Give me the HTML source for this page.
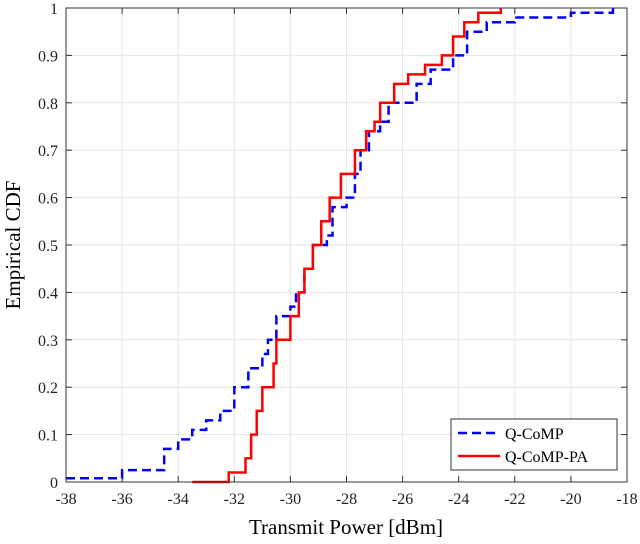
<!DOCTYPE html>
<html><head><meta charset="utf-8"><style>
html,body{margin:0;padding:0;background:#fff;}
svg{display:block;font-family:"Liberation Serif",serif;}
</style></head><body>
<svg id="chart" width="640" height="544">
<g id="grid"></g>
<g id="series"></g>
<g id="axes"></g>
<text x="346" y="534" font-size="21" text-anchor="middle">Transmit Power [dBm]</text>
<text transform="translate(20,245) rotate(-90)" font-size="21" text-anchor="middle">Empirical CDF</text>
<g>
<rect x="451" y="419" width="166" height="51" fill="#fff" stroke="#333" stroke-width="1"/>
<g>
<line x1="458" y1="433" x2="500" y2="433" stroke="#0000ff" stroke-width="2.5" stroke-dasharray="9,5"/>
<text x="505" y="439" font-size="16">Q-CoMP</text></g>
<g>
<line x1="458" y1="456" x2="500" y2="456" stroke="#ff0000" stroke-width="2.5"/>
<text x="505" y="462" font-size="16">Q-CoMP-PA</text></g>
</g>
</svg>
<script>
const xTicks=[-38,-36,-34,-32,-30,-28,-26,-24,-22,-20,-18];
const yTicks=[0,0.1,0.2,0.3,0.4,0.5,0.6,0.7,0.8,0.9,1];
const blueX=[-38,-36,-34.5,-34,-33.5,-33,-32.5,-32,-31.5,-31,-30.8,-30.5,-30,-29.8,-29.5,-29.2,-28.7,-28.5,-28,-27.7,-27.5,-27.2,-26.8,-26.5,-25.5,-25,-24.2,-23.7,-23,-22,-20,-18.5];
const blueY=[0.008,0.025,0.07,0.09,0.11,0.13,0.15,0.2,0.24,0.27,0.3,0.35,0.37,0.4,0.45,0.5,0.52,0.58,0.6,0.65,0.7,0.74,0.76,0.8,0.84,0.87,0.9,0.95,0.97,0.98,0.99,1];
const redX=[-33.5,-32.2,-31.6,-31.4,-31.2,-31,-30.6,-30.5,-30,-29.7,-29.5,-29.2,-28.9,-28.6,-28.2,-27.7,-27.3,-27,-26.8,-26.3,-25.8,-25.2,-24.6,-24.2,-23.8,-23.3,-22.5];
const redY=[0,0.02,0.05,0.1,0.15,0.2,0.25,0.3,0.35,0.4,0.45,0.5,0.55,0.6,0.65,0.7,0.74,0.76,0.8,0.84,0.86,0.88,0.9,0.94,0.97,0.99,1];
const L=66,R=627,T=8,B=482;
const xs=v=>L+(v+38)/20*(R-L);
const ys=v=>B-v*(B-T);
const NS="http://www.w3.org/2000/svg";
function mk(t,a,p){const e=document.createElementNS(NS,t);for(const k in a)e.setAttribute(k,a[k]);p.appendChild(e);return e;}
const grid=document.getElementById('grid'),axes=document.getElementById('axes'),ser=document.getElementById('series');
xTicks.forEach(v=>{
  const g=mk('line',{x1:xs(v),x2:xs(v),y1:T,y2:B,stroke:'#e6e6e6','stroke-width':1},grid);
  
  
  mk('line',{x1:xs(v),x2:xs(v),y1:B,y2:B-6,stroke:'#333'},axes);
  mk('line',{x1:xs(v),x2:xs(v),y1:T,y2:T+6,stroke:'#333'},axes);
  const t=mk('text',{x:xs(v),y:B+22,'font-size':16,'text-anchor':'middle',fill:'#222'},axes);
  t.textContent=v;
  
  
});
yTicks.forEach(v=>{
  const g=mk('line',{x1:L,x2:R,y1:ys(v),y2:ys(v),stroke:'#e6e6e6','stroke-width':1},grid);
  
  
  mk('line',{x1:L,x2:L+6,y1:ys(v),y2:ys(v),stroke:'#333'},axes);
  mk('line',{x1:R,x2:R-6,y1:ys(v),y2:ys(v),stroke:'#333'},axes);
  const t=mk('text',{x:L-8,y:ys(v)+6,'font-size':16,'text-anchor':'end',fill:'#222'},axes);
  t.textContent=v;
  
  
});
mk('rect',{x:L,y:T,width:R-L,height:B-T,fill:'none',stroke:'#333','stroke-width':1},axes);
function stepPath(X,Y){let d='M'+xs(X[0])+','+ys(Y[0]);for(let i=1;i<X.length;i++){d+=' H'+xs(X[i])+' V'+ys(Y[i]);}return d;}
const b=mk('path',{d:stepPath(blueX,blueY),fill:'none',stroke:'#0000ff','stroke-width':2.5,'stroke-dasharray':'9,5'},ser);


const r=mk('path',{d:stepPath(redX,redY),fill:'none',stroke:'#ff0000','stroke-width':2.5},ser);


</script>
</body></html>
